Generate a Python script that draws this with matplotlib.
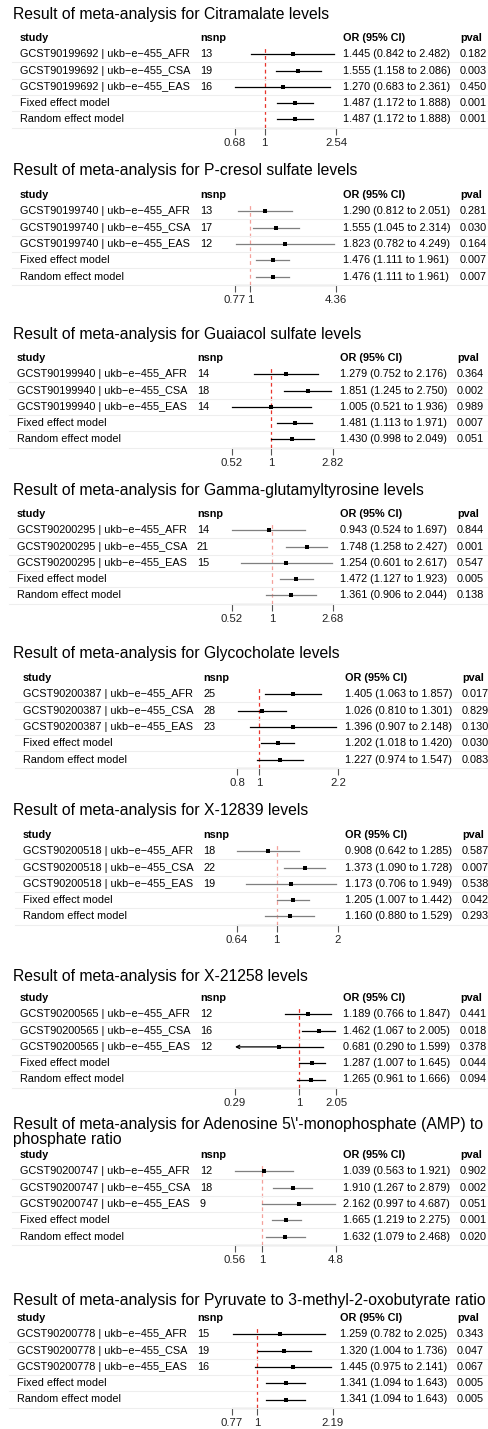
import matplotlib
matplotlib.use("Agg")
import matplotlib.pyplot as plt
import numpy as np

plt.rcParams['font.family'] = ['Liberation Sans', 'DejaVu Sans']

W, H = 489, 1429
DPI = 100

titles = [
    "Result of meta-analysis for Citramalate levels",
    "Result of meta-analysis for P-cresol sulfate levels",
    "Result of meta-analysis for Guaiacol sulfate levels",
    "Result of meta-analysis for Gamma-glutamyltyrosine levels",
    "Result of meta-analysis for Glycocholate levels",
    "Result of meta-analysis for X-12839 levels",
    "Result of meta-analysis for X-21258 levels",
    "Result of meta-analysis for Adenosine 5\\'-monophosphate (AMP) to\nphosphate ratio",
    "Result of meta-analysis for Pyruvate to 3-methyl-2-oxobutyrate ratio",
]
gcst_ids = ["GCST90199692", "GCST90199740", "GCST90199940", "GCST90200295",
            "GCST90200387", "GCST90200518", "GCST90200565", "GCST90200747",
            "GCST90200778"]
pops = ["AFR", "CSA", "EAS"]
nsnp = [[13, 19, 16], [13, 17, 12], [14, 18, 14], [14, 21, 15], [25, 28, 23],
        [18, 22, 19], [12, 16, 12], [12, 18, 9], [15, 19, 16]]
# rows: AFR, CSA, EAS, Fixed, Random
or_est = [[1.445, 1.555, 1.270, 1.487, 1.487],
          [1.290, 1.555, 1.823, 1.476, 1.476],
          [1.279, 1.851, 1.005, 1.481, 1.430],
          [0.943, 1.748, 1.254, 1.472, 1.361],
          [1.405, 1.026, 1.396, 1.202, 1.227],
          [0.908, 1.373, 1.173, 1.205, 1.160],
          [1.189, 1.462, 0.681, 1.287, 1.265],
          [1.039, 1.910, 2.162, 1.665, 1.632],
          [1.259, 1.320, 1.445, 1.341, 1.341]]
or_lo = [[0.842, 1.158, 0.683, 1.172, 1.172],
         [0.812, 1.045, 0.782, 1.111, 1.111],
         [0.752, 1.245, 0.521, 1.113, 0.998],
         [0.524, 1.258, 0.601, 1.127, 0.906],
         [1.063, 0.810, 0.907, 1.018, 0.974],
         [0.642, 1.090, 0.706, 1.007, 0.880],
         [0.766, 1.067, 0.290, 1.007, 0.961],
         [0.563, 1.267, 0.997, 1.219, 1.079],
         [0.782, 1.004, 0.975, 1.094, 1.094]]
or_hi = [[2.482, 2.086, 2.361, 1.888, 1.888],
         [2.051, 2.314, 4.249, 1.961, 1.961],
         [2.176, 2.750, 1.936, 1.971, 2.049],
         [1.697, 2.427, 2.617, 1.923, 2.044],
         [1.857, 1.301, 2.148, 1.420, 1.547],
         [1.285, 1.728, 1.949, 1.442, 1.529],
         [1.847, 2.005, 1.599, 1.645, 1.666],
         [1.921, 2.879, 4.687, 2.275, 2.468],
         [2.025, 1.736, 2.141, 1.643, 1.643]]
pvals = [["0.182", "0.003", "0.450", "0.001", "0.001"],
         ["0.281", "0.030", "0.164", "0.007", "0.007"],
         ["0.364", "0.002", "0.989", "0.007", "0.051"],
         ["0.844", "0.001", "0.547", "0.005", "0.138"],
         ["0.017", "0.829", "0.130", "0.030", "0.083"],
         ["0.587", "0.007", "0.538", "0.042", "0.293"],
         ["0.441", "0.018", "0.378", "0.044", "0.094"],
         ["0.902", "0.002", "0.051", "0.001", "0.020"],
         ["0.343", "0.047", "0.067", "0.005", "0.005"]]
xticks = [[0.68, 1, 2.54], [0.77, 1, 4.36], [0.52, 1, 2.82], [0.52, 1, 2.68],
          [0.8, 1, 2.2], [0.64, 1, 2], [0.29, 1, 2.05], [0.56, 1, 4.8],
          [0.77, 1, 2.19]]
tick_labels = [["0.68", "1", "2.54"], ["0.77", "1", "4.36"], ["0.52", "1", "2.82"],
               ["0.52", "1", "2.68"], ["0.8", "1", "2.2"], ["0.64", "1", "2"],
               ["0.29", "1", "2.05"], ["0.56", "1", "4.8"], ["0.77", "1", "2.19"]]
model_labels = ["Fixed effect model", "Random effect model"]

# layout (pixels from top-left)
title_y = [14, 171, 335, 490, 654, 810, 977, 1132, 1300]
header_y = [38, 195, 358, 514, 678, 835, 998, 1155, 1318]
study_x = [20, 20, 17, 17, 23, 23, 20, 20, 17]
axis_left = [235, 235, 232, 232, 237, 237, 235, 235, 232]
AX_W = 101
ROW = 16.3
FS = 7.8
TFS = 11.3

fig = plt.figure(figsize=(W / DPI, H / DPI), dpi=DPI)


def fx(px):
    return px / W


def fy(py):
    return 1 - py / H


for p in range(9):
    hy = header_y[p]
    sx = study_x[p]
    al = axis_left[p]
    orx = al + 108
    pvx = orx + 117
    nsx = sx + 180
    even = (p % 2 == 1)
    ci_col = "#7f7f7f" if even else "black"
    ref_col = "#f4a09a" if even else "#e8332a"

    fig.text(fx(13), fy(title_y[p]), titles[p], fontsize=TFS, va='center',
             ha='left', linespacing=1.0)
    fig.text(fx(sx), fy(hy), "study", fontsize=FS, fontweight='bold', va='center')
    fig.text(fx(nsx), fy(hy), "nsnp", fontsize=FS, fontweight='bold', va='center')
    fig.text(fx(orx), fy(hy), "OR (95% CI)", fontsize=FS, fontweight='bold', va='center')
    fig.text(fx(pvx), fy(hy), "pval", fontsize=FS, fontweight='bold', va='center')

    labels = [f"{gcst_ids[p]} | ukb\u2212e\u2212455_{pop}" for pop in pops] + model_labels
    ns = [str(v) for v in nsnp[p]] + ["", ""]
    for i in range(5):
        ry = hy + ROW * (i + 1)
        fig.text(fx(sx), fy(ry), labels[i], fontsize=FS, va='center')
        fig.text(fx(nsx), fy(ry), ns[i], fontsize=FS, va='center')
        txt = f"{or_est[p][i]:.3f} ({or_lo[p][i]:.3f} to {or_hi[p][i]:.3f})"
        fig.text(fx(orx), fy(ry), txt, fontsize=FS, va='center')
        fig.text(fx(pvx), fy(ry), pvals[p][i], fontsize=FS, va='center')
        # separator line below row
        sep = ry + ROW / 2
        fig.add_artist(plt.Line2D([fx(sx - 8), 1.0], [fy(sep), fy(sep)],
                                  color="#eeeeee", lw=0.8))

    # forest axes
    top = hy + 8
    bot = hy + 90
    ax = fig.add_axes([fx(al), fy(bot), AX_W / W, (bot - top) / H])
    ax.set_xscale('log')
    lo_lim, hi_lim = xticks[p][0], xticks[p][-1]
    ax.set_xlim(lo_lim, hi_lim)
    y_top = (8 - ROW) / ROW
    y_bot = (90 - ROW) / ROW
    ax.set_ylim(y_bot, y_top)
    ax.patch.set_alpha(0)
    for s in ['top', 'right', 'left']:
        ax.spines[s].set_visible(False)
    ax.spines['bottom'].set_color('#555555')
    ax.spines['bottom'].set_linewidth(0.8)
    ax.set_yticks([])
    ax.set_xticks(xticks[p])
    ax.set_xticklabels(tick_labels[p])
    ax.xaxis.set_minor_locator(matplotlib.ticker.NullLocator())
    ax.tick_params(axis='x', length=5, width=0.8, color='#555555',
                   labelsize=FS + 0.4, pad=2, labelcolor='#222222')
    ax.axvline(1, color=ref_col, lw=0.9, ls=(0, (3, 2.5)), zorder=1)

    for i in range(5):
        lo = or_lo[p][i]
        hi = or_hi[p][i]
        est = or_est[p][i]
        if lo <= lo_lim:
            ax.plot([est, hi], [i, i], color=ci_col, lw=0.9, clip_on=False, zorder=2)
            ax.annotate("", xy=(lo_lim, i), xytext=(est, i),
                        arrowprops=dict(arrowstyle='->', color=ci_col, lw=0.9,
                                        shrinkA=0, shrinkB=0, mutation_scale=6))
        else:
            ax.plot([lo, hi], [i, i], color=ci_col, lw=0.9, clip_on=False, zorder=2)
        ax.plot([est], [i], marker='s', ms=3.2, color='black', mec='black',
                mew=0, ls='none', zorder=3, clip_on=False)

fig.savefig("out.png", dpi=DPI)
